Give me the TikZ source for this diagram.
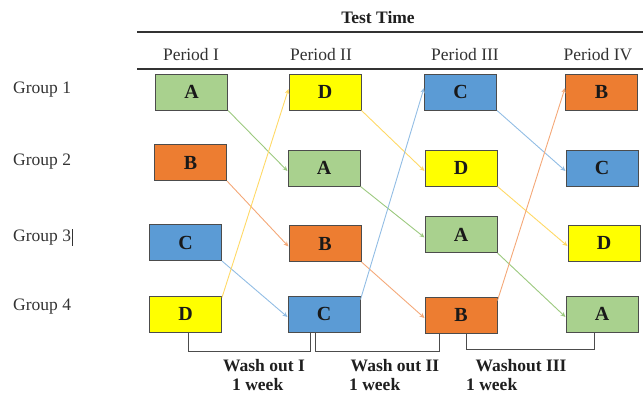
\documentclass[tikz,border=0pt]{standalone}
\usepackage{fontspec}
\setmainfont{Liberation Serif}
\usetikzlibrary{arrows.meta}
\definecolor{agreen}{HTML}{A9D18E}
\definecolor{byellow}{HTML}{FFFF00}
\definecolor{corange}{HTML}{ED7D31}
\definecolor{dblue}{HTML}{5B9BD5}
\definecolor{lgreen}{HTML}{9CC97F}
\definecolor{lorange}{HTML}{F4A878}
\definecolor{lblue}{HTML}{92BDE4}
\definecolor{lyellow}{HTML}{FFD966}
\definecolor{txt}{HTML}{333333}
\tikzset{
  box/.style={draw=black!70, line width=1pt, minimum width=72pt, minimum height=36pt, inner sep=0pt,
    font=\fontsize{20}{22}\selectfont\bfseries, text=black!90},
  lab/.style={font=\fontsize{17.5}{20}\selectfont, text=txt, inner sep=0pt},
  blab/.style={font=\fontsize{17.5}{20}\selectfont\bfseries, text=black!88, inner sep=0pt},
  conn/.style={line width=0.9pt, -{Stealth[length=5pt,width=4.5pt]}},
  bracket/.style={draw=black!70, line width=1pt},
  rulel/.style={draw=black!80, line width=1.6pt}
}
\begin{document}
\begin{tikzpicture}[x=1pt,y=-1pt]
\useasboundingbox (0,0) rectangle (643,394);
% header
\node[blab] (tt) at (378,18) {Test Time};
\coordinate (r1a) at (137,32);
\coordinate (r1b) at (643,32);
\draw[rulel] (r1a) -- (r1b);
\node[lab] (p1) at (191,55) {Period I};
\node[lab] (p2) at (321,55) {Period II};
\node[lab] (p3) at (465,55) {Period III};
\node[lab] (p4) at (598,55) {Period IV};
\coordinate (r2a) at (137,69);
\coordinate (r2b) at (643,69);
\draw[rulel] (r2a) -- (r2b);
% group labels
\node[lab, anchor=west] (g1) at (13,90) {Group 1};
\node[lab, anchor=west] (g2) at (13,162) {Group 2};
\node[lab, anchor=west] (g3) at (13,237) {Group 3\hspace{1pt}\rule[-4pt]{0.7pt}{17pt}};
\node[lab, anchor=west] (g4) at (13,307) {Group 4};
% boxes
\node[box, fill=agreen] (A1) at (191.5,92) {A};
\node[box, fill=byellow] (D2) at (325,92) {D};
\node[box, fill=dblue] (C3) at (460.5,92) {C};
\node[box, fill=corange] (B4) at (601.5,92) {B};

\node[box, fill=corange] (B1) at (190.5,162.5) {B};
\node[box, fill=agreen] (A2) at (324,168) {A};
\node[box, fill=byellow] (D3) at (461,168) {D};
\node[box, fill=dblue] (C4) at (602,168) {C};

\node[box, fill=dblue] (C1) at (185.5,242.5) {C};
\node[box, fill=corange] (B2) at (325,243.5) {B};
\node[box, fill=agreen] (A3) at (461,234.5) {A};
\node[box, fill=byellow] (D4) at (604,243) {D};

\node[box, fill=byellow] (D1) at (185.5,314) {D};
\node[box, fill=dblue] (C2) at (324,314) {C};
\node[box, fill=corange] (B3) at (461,315) {B};
\node[box, fill=agreen] (A4) at (602,314) {A};
% connectors P1 -> P2
\draw[conn, lgreen] (A1.south east) -- ([yshift=-3pt]A2.west);
\draw[conn, lorange] (B1.south east) -- ([yshift=-3pt]B2.west);
\draw[conn, lblue] (C1.south east) -- ([yshift=-3pt]C2.west);
\draw[conn, lyellow] ([yshift=-2pt]D1.north east) -- ([yshift=3pt]D2.west);
% P2 -> P3
\draw[conn, lyellow] (D2.south east) -- ([yshift=-3pt]D3.west);
\draw[conn, lgreen] (A2.south east) -- ([yshift=-3pt]A3.west);
\draw[conn, lorange] (B2.south east) -- ([yshift=-3pt]B3.west);
\draw[conn, lblue] ([yshift=-4pt]C2.north east) -- ([yshift=4pt]C3.west);
% P3 -> P4
\draw[conn, lblue] (C3.south east) -- ([yshift=-3pt]C4.west);
\draw[conn, lyellow] (D3.south east) -- ([yshift=-3pt]D4.west);
\draw[conn, lgreen] (A3.south east) -- ([yshift=-3pt]A4.west);
\draw[conn, lorange] ([yshift=-4pt]B3.north east) -- ([yshift=4pt]B4.west);
% washout brackets
\draw[bracket] ([xshift=2.5pt]D1.south) -- ++(0,19) -| ([xshift=-14pt]C2.south);
\draw[bracket] ([xshift=-9pt]C2.south) -- ++(0,19) -| ([xshift=-22pt]B3.south);
\draw[bracket] ([xshift=5pt]B3.south) -- ++(0,16) -| ([xshift=-8pt]A4.south);
% washout labels
\node[blab] (w1) at (264,366) {Wash out I};
\node[blab, anchor=west] (k1) at (232,385) {1 week};
\node[blab] (w2) at (395,366) {Wash out II};
\node[blab, anchor=west] (k2) at (349,385) {1 week};
\node[blab] (w3) at (521,366) {Washout III};
\node[blab, anchor=west] (k3) at (466,385) {1 week};
\end{tikzpicture}
\end{document}
